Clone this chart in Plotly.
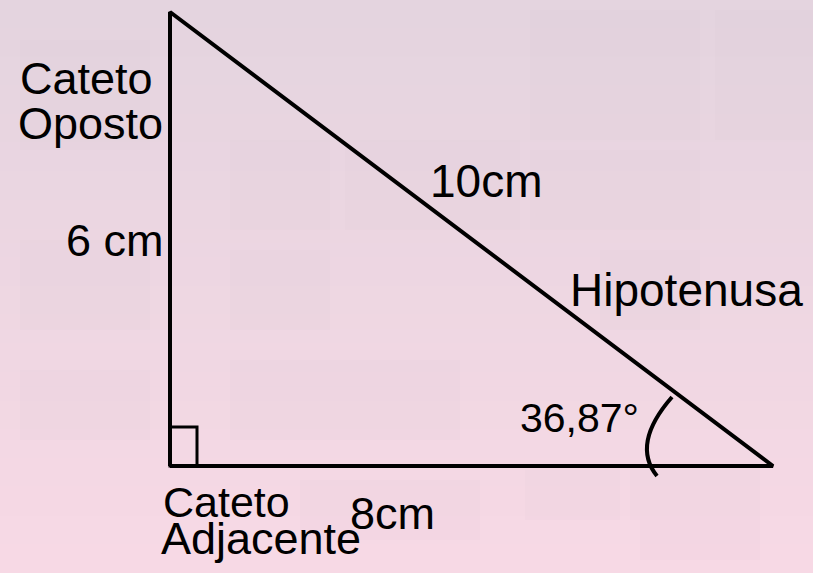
import plotly.graph_objects as go

# Triangle data (cm)
cateto_adjacente = 8
cateto_oposto = 6
hipotenusa = 10
angulo = 36.87
tri_x = [0, cateto_adjacente, 0, 0]
tri_y = [0, 0, cateto_oposto, 0]

W, H = 813, 573
# pixel mapping of the diagram (origin at right angle)
ox, oy = 170, 466
sx = (773 - 170) / cateto_adjacente
sy = (466 - 12) / cateto_oposto

def px(x):
    return (x - ox) / sx

def py(y):
    return (oy - y) / sy

fig = go.Figure()

fig.add_trace(go.Scatter(x=tri_x, y=tri_y, mode="lines",
                         line=dict(color="black", width=4),
                         hoverinfo="skip", showlegend=False))

shapes = []
# background gradient bands
top = (228, 212, 223)
bot = (247, 217, 229)
n = 40
for i in range(n):
    t = i / (n - 1)
    c = tuple(round(top[k] + (bot[k] - top[k]) * t) for k in range(3))
    shapes.append(dict(type="rect", xref="paper", yref="paper",
                       x0=0, x1=1, y0=1 - (i + 1) / n, y1=1 - i / n + 0.001,
                       fillcolor="rgb(%d,%d,%d)" % c, line=dict(width=0), layer="below"))
# faint squares
squares = [(20, 40, 150, 150), (230, 140, 330, 230), (345, 140, 520, 230), (530, 10, 700, 140),
           (715, 10, 813, 140), (20, 240, 150, 330), (230, 250, 330, 330), (600, 250, 700, 330),
           (230, 360, 460, 440), (530, 150, 700, 230), (300, 480, 480, 540), (525, 470, 620, 520),
           (630, 470, 760, 520), (20, 370, 150, 440), (640, 520, 760, 560)]
for (a, b, c2, d) in squares:
    shapes.append(dict(type="rect", xref="paper", yref="paper",
                       x0=a / W, x1=c2 / W, y0=1 - d / H, y1=1 - b / H,
                       fillcolor="rgba(200,180,195,0.05)", line=dict(width=0), layer="below"))

# right angle marker
shapes.append(dict(type="rect", xref="x", yref="y", x0=0, y0=0,
                   x1=px(197), y1=py(427), line=dict(color="black", width=3)))
# angle arc
p0 = (px(672), py(397))
pc = (px(631), py(444))
p2 = (px(657), py(476))
shapes.append(dict(type="path", xref="x", yref="y",
                   path="M %f,%f Q %f,%f %f,%f" % (p0[0], p0[1], pc[0], pc[1], p2[0], p2[1]),
                   line=dict(color="black", width=4)))

FONT = "Liberation Sans, Arial, sans-serif"

def label(text, left, base, size=45):
    # left ink edge & baseline in pixels
    yc = base - 0.36 * size
    fig.add_annotation(text=text, xref="paper", yref="paper",
                       x=(left - 4) / W, y=1 - yc / H, xanchor="left", yanchor="middle",
                       showarrow=False, font=dict(family=FONT, size=size, color="black"))

label("Cateto", 22, 95, 45)
label("Oposto", 20, 140, 45)
label("%d cm" % cateto_oposto, 68, 257, 45)
label("%dcm" % hipotenusa, 432, 198, 46)
label("Hipotenusa", 572, 307, 46)
label(("%.2f" % angulo).replace(".", ",") + "°", 522, 433, 41)
label("Cateto", 165, 517, 43)
label("Adjacente", 163, 555, 45)
label("%dcm" % cateto_adjacente, 352, 530, 45)

fig.update_layout(width=W, height=H, margin=dict(l=0, r=0, t=0, b=0),
                  paper_bgcolor="rgb(238,215,226)", plot_bgcolor="rgba(0,0,0,0)",
                  shapes=shapes, showlegend=False,
                  xaxis=dict(range=[px(0), px(W)], visible=False, fixedrange=True),
                  yaxis=dict(range=[py(H), py(0)], visible=False, fixedrange=True))

fig.write_html("out.html", config={"displayModeBar": False})

# remove the default page margin so the figure fills the window
with open("out.html", encoding="utf-8") as f:
    html = f.read()
html = html.replace("<head>", "<head><style>html,body{margin:0;padding:0;overflow:hidden;}</style>", 1)
with open("out.html", "w", encoding="utf-8") as f:
    f.write(html)
